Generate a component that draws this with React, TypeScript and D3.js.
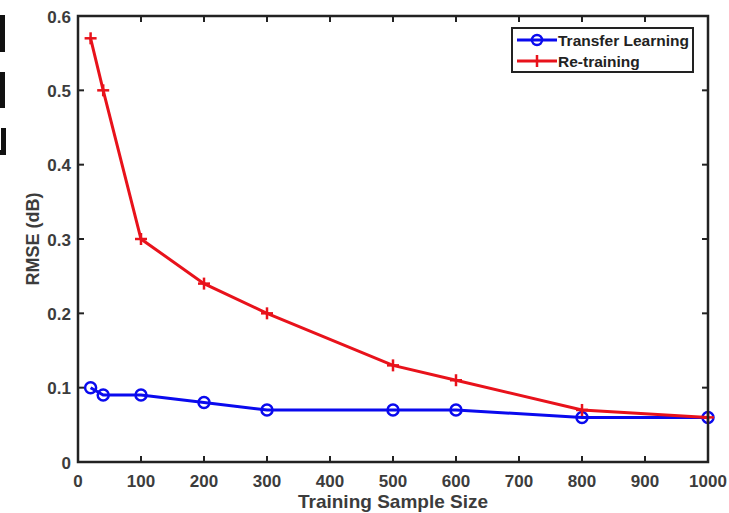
import React, { useEffect, useRef } from "react";
import * as d3 from "d3";

const sampleSizes = [20, 40, 100, 200, 300, 500, 600, 800, 1000];
const transferLearning = [0.1, 0.09, 0.09, 0.08, 0.07, 0.07, 0.07, 0.06, 0.06];
const retraining = [0.57, 0.5, 0.3, 0.24, 0.2, 0.13, 0.11, 0.07, 0.06];
const xTicks = [0, 100, 200, 300, 400, 500, 600, 700, 800, 900, 1000];
const yTicks = [0, 0.1, 0.2, 0.3, 0.4, 0.5, 0.6];
const seriesNames = ["Transfer Learning", "Re-training"];
const xTitle = "Training Sample Size";
const yTitle = "RMSE (dB)";

const W = 729;
const H = 513;
const L = 78, R = 708, T = 16, B = 462;
const BLUE = "#0a0aee";
const RED = "#e8121b";
const FONT = "Arial, 'Liberation Sans', sans-serif";
const TXT = "#3c3c3c";

export default function App() {
  const ref = useRef<SVGSVGElement>(null);
  useEffect(() => {
    const svg = d3.select(ref.current);
    svg.selectAll("*").remove();
    const x = d3.scaleLinear().domain([0, 1000]).range([L, R]);
    const y = d3.scaleLinear().domain([0, 0.6]).range([B, T]);

    svg.append("rect").attr("width", W).attr("height", H).attr("fill", "#fff");

    // cropped artifacts on left edge
    const art = svg.append("g").attr("fill", "#111");
    art.append("rect").attr("x", 0).attr("y", 15).attr("width", 5).attr("height", 37);
    art.append("rect").attr("x", 0).attr("y", 72).attr("width", 5).attr("height", 36);
    art.append("rect").attr("x", 1).attr("y", 128).attr("width", 5).attr("height", 27);
    art.append("rect").attr("x", 0).attr("y", 150).attr("width", 6).attr("height", 5);

    // ticks (inward) on all sides
    const tk = svg.append("g").attr("stroke", "#222").attr("stroke-width", 2);
    xTicks.forEach((t) => {
      tk.append("line").attr("x1", x(t)).attr("x2", x(t)).attr("y1", B).attr("y2", B - 6);
      tk.append("line").attr("x1", x(t)).attr("x2", x(t)).attr("y1", T).attr("y2", T + 6);
    });
    yTicks.forEach((t) => {
      tk.append("line").attr("x1", L).attr("x2", L + 6).attr("y1", y(t)).attr("y2", y(t));
      tk.append("line").attr("x1", R).attr("x2", R - 6).attr("y1", y(t)).attr("y2", y(t));
    });

    const line = d3
      .line<[number, number]>()
      .x((d) => x(d[0]))
      .y((d) => y(d[1]));

    const tlData: [number, number][] = sampleSizes.map((s, i) => [s, transferLearning[i]]);
    const rtData: [number, number][] = sampleSizes.map((s, i) => [s, retraining[i]]);

    // blue
    svg.append("path").attr("d", line(tlData)).attr("fill", "none").attr("stroke", BLUE).attr("stroke-width", 3);
    svg
      .append("g")
      .selectAll("circle")
      .data(tlData)
      .join("circle")
      .attr("cx", (d) => x(d[0]))
      .attr("cy", (d) => y(d[1]))
      .attr("r", 5.5)
      .attr("fill", "none")
      .attr("stroke", BLUE)
      .attr("stroke-width", 2.5);

    // red
    svg.append("path").attr("d", line(rtData)).attr("fill", "none").attr("stroke", RED).attr("stroke-width", 3);
    const pg = svg.append("g").attr("stroke", RED).attr("stroke-width", 2.5);
    rtData.forEach((d) => {
      const cx = x(d[0]), cy = y(d[1]);
      pg.append("line").attr("x1", cx - 6).attr("x2", cx + 6).attr("y1", cy).attr("y2", cy);
      pg.append("line").attr("x1", cx).attr("x2", cx).attr("y1", cy - 6).attr("y2", cy + 6);
    });

    // box
    svg.append("rect").attr("x", L).attr("y", T).attr("width", R - L).attr("height", B - T)
      .attr("fill", "none").attr("stroke", "#222").attr("stroke-width", 2.5);

    // tick labels
    const tl = svg.append("g").attr("font-family", FONT).attr("font-weight", "bold").attr("font-size", 17).attr("fill", TXT);
    xTicks.forEach((t) => {
      tl.append("text").attr("x", x(t)).attr("y", 487).attr("text-anchor", "middle").text(String(t));
    });
    yTicks.forEach((t) => {
      tl.append("text").attr("x", 71).attr("y", y(t) + 6.5).attr("text-anchor", "end").text(t === 0 ? "0" : t.toFixed(1));
    });

    // titles
    svg.append("text").attr("x", (L + R) / 2).attr("y", 508).attr("text-anchor", "middle")
      .attr("font-family", FONT).attr("font-weight", "bold").attr("font-size", 19).attr("fill", TXT).text(xTitle);
    svg.append("text").attr("transform", `translate(39,${(T + B) / 2}) rotate(-90)`).attr("text-anchor", "middle")
      .attr("font-family", FONT).attr("font-weight", "bold").attr("font-size", 18).attr("fill", TXT).text(yTitle);

    // legend
    const lg = svg.append("g");
    lg.append("rect").attr("x", 512).attr("y", 28).attr("width", 181).attr("height", 44)
      .attr("fill", "#fff").attr("stroke", "#222").attr("stroke-width", 2);
    const rows = [
      { name: seriesNames[0], color: BLUE, y: 40, marker: "circle" },
      { name: seriesNames[1], color: RED, y: 61, marker: "plus" },
    ];
    rows.forEach((r) => {
      lg.append("line").attr("x1", 517).attr("x2", 557).attr("y1", r.y).attr("y2", r.y)
        .attr("stroke", r.color).attr("stroke-width", 3);
      if (r.marker === "circle") {
        lg.append("circle").attr("cx", 537).attr("cy", r.y).attr("r", 5).attr("fill", "none")
          .attr("stroke", r.color).attr("stroke-width", 2.5);
      } else {
        lg.append("line").attr("x1", 537).attr("x2", 537).attr("y1", r.y - 6).attr("y2", r.y + 6)
          .attr("stroke", r.color).attr("stroke-width", 2.5);
      }
      lg.append("text").attr("x", 558).attr("y", r.y + 5.5).attr("font-family", FONT).attr("font-weight", "bold")
        .attr("font-size", 15.5).attr("fill", "#222").text(r.name);
    });
  }, []);

  return (
    <svg ref={ref} width={W} height={H} style={{ position: "absolute", left: 0, top: 0, display: "block" }} />
  );
}
